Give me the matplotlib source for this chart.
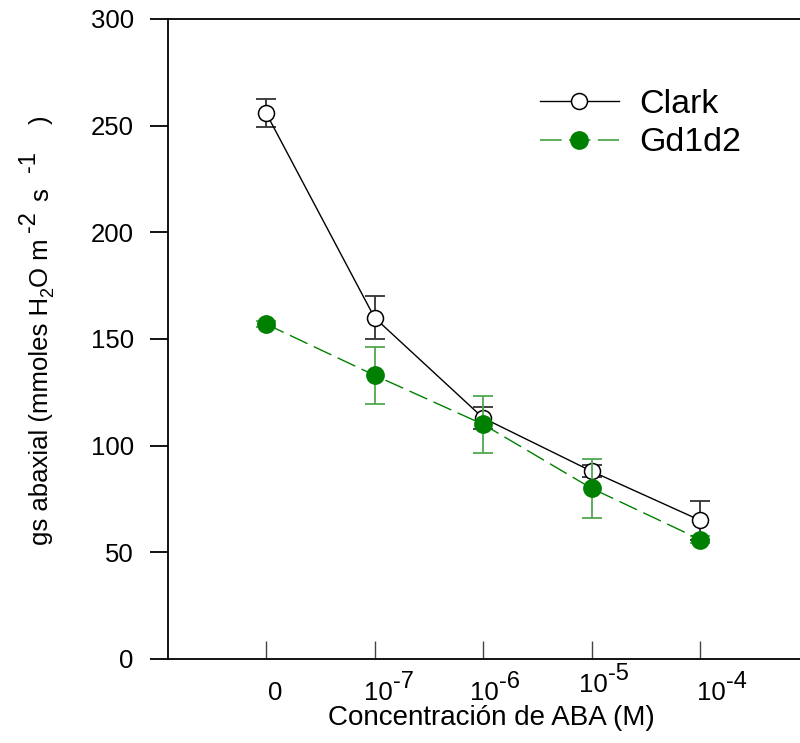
import matplotlib
matplotlib.use("Agg")
import matplotlib.pyplot as plt
from matplotlib.lines import Line2D

plt.rcParams['font.family'] = ['Liberation Sans', 'DejaVu Sans']

# ---- data ----
conc_base = ['0', '10', '10', '10', '10']
conc_exp = ['', '-7', '-6', '-5', '-4']
clark_mean = [256, 160, 113, 88, 65]
clark_err = [6.7, 10.0, 5.3, 2.8, 9.0]
gd_mean = [157, 133, 110, 80, 56]
gd_err = [1.5, 13.3, 13.4, 13.8, 1.5]
series_labels = ['Clark', 'Gd1d2']
y_ticks = [0, 50, 100, 150, 200, 250, 300]
x_title = 'Concentración de ABA (M)'
y_title_pieces = ['gs abaxial (mmoles H', '2', 'O m', '-2', 's', '-1', ')']

# ---- layout (pixels) ----
W, H = 800, 743
fig = plt.figure(figsize=(W / 100, H / 100), dpi=100)
left, right, top, bottom = 167.7, 800, 19, 659
ax = fig.add_axes([left / W, (H - bottom) / H, (right - left) / W, (bottom - top) / H])

x = list(range(len(conc_base)))

green = '#008000'
green_err = '#4fa84f'

# Clark
ax.errorbar(x, clark_mean, yerr=clark_err, fmt='none', ecolor='#333333',
            elinewidth=1.3, capsize=7, capthick=1.3, zorder=2)
ax.plot(x, clark_mean, color='black', lw=1.0, marker='o', ms=11.5,
        mfc='white', mec='black', mew=1.1, zorder=3)

# Gd1d2
ax.errorbar(x, gd_mean, yerr=gd_err, fmt='none', ecolor=green_err,
            elinewidth=1.3, capsize=7, capthick=1.3, zorder=4)
ax.plot(x, gd_mean, color=green, lw=1.0, dashes=(14, 5), marker='o', ms=12.5,
        mfc=green, mec=green, mew=1.0, zorder=5)

ax.set_xlim(-0.906, 4.92)
ax.set_ylim(0, 300)
ax.set_yticks(y_ticks)
ax.set_xticks(x)
ax.set_xticklabels([])

ax.spines['right'].set_visible(False)
for s in ['left', 'top', 'bottom']:
    ax.spines[s].set_linewidth(1.3)
    ax.spines[s].set_color('black')

ax.tick_params(axis='y', direction='out', length=13, width=1.3, pad=11.5,
               labelsize=18.5)
ax.tick_params(axis='x', direction='in', length=13, width=1.0,
               labelbottom=False, color='#444444')

# x tick labels with large raised exponents (hand-placed like the reference)
junction_dx = [9, 18.5, 15.5, 16, 26]
label_raise = [0, 0, 0, 8, 0]
for xi, base, ex, dx, dy in zip(x, conc_base, conc_exp, junction_dx, label_raise):
    if ex:
        ax.annotate(base, xy=(xi, 0), xycoords=('data', 'data'),
                    xytext=(dx, -41 + dy), textcoords='offset pixels',
                    ha='right', va='baseline', fontsize=18.5, annotation_clip=False)
        ax.annotate(ex, xy=(xi, 0), xycoords=('data', 'data'),
                    xytext=(dx, -29 + dy), textcoords='offset pixels',
                    ha='left', va='baseline', fontsize=17, annotation_clip=False)
    else:
        ax.annotate(base, xy=(xi, 0), xycoords=('data', 'data'),
                    xytext=(dx, -41 + dy), textcoords='offset pixels',
                    ha='center', va='baseline', fontsize=18.5, annotation_clip=False)

fig.text(491 / W, 1 - 718 / H, x_title, ha='center', va='center', fontsize=20)

# y title built from pieces (full-size raised exponents)
renderer = fig.canvas.get_renderer()
base_x = 48           # baseline x (image px)
y_pos = H - 545       # start (bottom) in figure px from bottom
piece_shift = [0, 5, 0, -13, 0, -13, 0]
piece_size = [18.5, 13, 18.5, 17, 18.5, 17, 18.5]
piece_gap = [0, 0, 0, 6, 10, 16, 28]
for txt, sh, sz, gap in zip(y_title_pieces, piece_shift, piece_size, piece_gap):
    y_pos += gap
    t = fig.text((base_x + sh) / W, y_pos / H, txt, rotation=90,
                 rotation_mode='anchor', ha='left', va='baseline', fontsize=sz)
    bb = t.get_window_extent(renderer)
    y_pos += bb.height

handles = [
    Line2D([], [], color='black', lw=1.0, marker='o', ms=11.5, mfc='white',
           mec='black', mew=1.1),
    Line2D([], [], color=green_err, lw=1.3, dashes=(12, 4), marker='o', ms=12.5,
           mfc=green, mec=green),
]
ax.legend(handles, series_labels, loc='upper left',
          bbox_to_anchor=(540 / W, 1 - 89 / H), bbox_transform=fig.transFigure,
          frameon=False, fontsize=24.5, borderpad=0, borderaxespad=0,
          handlelength=2.32, handletextpad=0.59, labelspacing=0.22)

fig.savefig('out.png', dpi=100)
